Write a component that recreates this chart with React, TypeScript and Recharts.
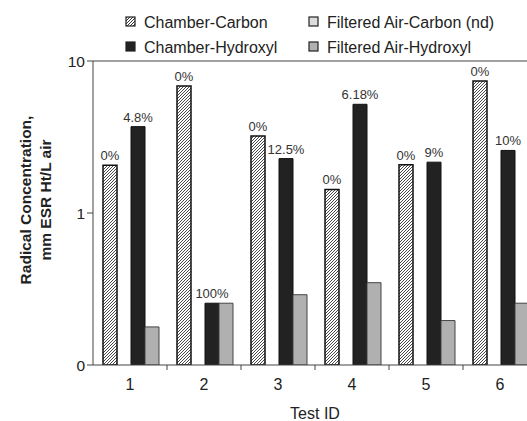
import { Bar, BarChart, LabelList, Legend, ReferenceLine, XAxis, YAxis } from "recharts"

const testIds = ["1", "2", "3", "4", "5", "6"]
const chamberCarbon = [2.06, 6.85, 3.21, 1.43, 2.08, 7.39]
const filteredCarbon = [null, null, null, null, null, null]
const chamberHydroxyl = [3.7, 0.255, 2.28, 5.19, 2.16, 2.58]
const filteredHydroxyl = [0.178, 0.255, 0.29, 0.348, 0.196, 0.255]
const carbonLabels = ["0%", "0%", "0%", "0%", "0%", "0%"]
const hydroxylLabels = ["4.8%", "100%", "12.5%", "6.18%", "9%", "10%"]
const yTicks = [0.1, 1, 10]

const data = testIds.map((id, i) => ({
  id,
  cc: chamberCarbon[i],
  fc: filteredCarbon[i],
  ch: chamberHydroxyl[i],
  fh: filteredHydroxyl[i],
  ccLabel: carbonLabels[i],
  chLabel: hydroxylLabels[i],
}))

const font = "Arial, 'Liberation Sans', sans-serif"

const legendItems = [
  { name: "Chamber-Carbon", fill: "url(#hatchL)", x: 126, y: 22 },
  { name: "Filtered Air-Carbon (nd)", fill: "#dcdcdc", x: 309, y: 22 },
  { name: "Chamber-Hydroxyl", fill: "#222", x: 126, y: 47 },
  { name: "Filtered Air-Hydroxyl", fill: "#b0b0b0", x: 309, y: 47 },
]

const renderLegend = () => (
  <svg width={527} height={60} style={{ position: "absolute", left: 0, top: 0 }}>
    <defs>
      <pattern id="hatchL" width="3" height="3" patternUnits="userSpaceOnUse">
        <rect width="3" height="3" fill="#fff" />
        <path d="M0,3 L3,0 M-1,1 L1,-1 M2,4 L4,2" stroke="#222" strokeWidth="0.9" />
      </pattern>
    </defs>
    {legendItems.map((it) => (
      <g key={it.name}>
        <rect x={it.x} y={it.y - 5} width={9} height={9} fill={it.fill} stroke="#222" strokeWidth={1.2} />
        <text x={it.x + 18} y={it.y + 6} fontSize={16} fontFamily={font} fill="#222">{it.name}</text>
      </g>
    ))}
  </svg>
)

const XTick = ({ x, y, payload }: any) => (
  <g>
    <line x1={x + 37} y1={y - 8} x2={x + 37} y2={y - 3} stroke="#444" />
    <text x={x} y={y + 17} textAnchor="middle" fontSize={16} fontFamily={font} fill="#222">{payload.value}</text>
  </g>
)

const YLabel = () => (
  <text transform="translate(0,200) rotate(-90)" textAnchor="middle" fontSize={15.5} fontWeight="bold" fontFamily={font} fill="#222">
    <tspan x={0} y={31}>Radical Concentration,</tspan>
    <tspan x={0} y={51}>mm ESR Ht/L air</tspan>
  </text>
)

export default function App() {
  return (
    <div style={{ position: "absolute", left: 0, top: 0, width: 527, height: 421, overflow: "hidden", background: "#fff" }}>
      <BarChart
        width={560}
        height={421}
        data={data}
        margin={{ top: 61, right: 23, left: 0, bottom: 0 }}
        barCategoryGap={10}
        barGap={0}
      >
        <defs>
          <pattern id="hatch" width="3" height="3" patternUnits="userSpaceOnUse">
            <rect width="3" height="3" fill="#fff" />
            <path d="M0,3 L3,0 M-1,1 L1,-1 M2,4 L4,2" stroke="#333" strokeWidth="0.9" />
          </pattern>
        </defs>
        <XAxis
          dataKey="id"
          height={56}
          stroke="#444"
          tickLine={false}
          tick={<XTick />}
          label={{ value: "Test ID", position: "insideBottom", offset: 2, fontSize: 16, fontFamily: font, fill: "#222" }}
        />
        <YAxis
          type="number"
          scale="log"
          domain={[0.1, 10]}
          ticks={yTicks}
          allowDataOverflow
          width={93}
          stroke="#444"
          tickSize={6}
          tick={{ fontSize: 15.5, fontFamily: font, fill: "#222" }}
          tickFormatter={(v: number) => (v < 1 ? "0" : String(v))}
          label={<YLabel />}
        />
        <ReferenceLine y={10} stroke="#444" />
        <Legend content={renderLegend} wrapperStyle={{ position: "absolute", left: 0, top: 0 }} />
        <Bar dataKey="cc" name="Chamber-Carbon" fill="url(#hatch)" stroke="#111" strokeWidth={1.5} isAnimationActive={false}>
          <LabelList dataKey="ccLabel" position="top" offset={5} fontSize={13} fontFamily={font} fill="#333" />
        </Bar>
        <Bar dataKey="fc" name="Filtered Air-Carbon (nd)" fill="#dcdcdc" stroke="#333" isAnimationActive={false} />
        <Bar dataKey="ch" name="Chamber-Hydroxyl" fill="#222" stroke="#111" isAnimationActive={false}>
          <LabelList dataKey="chLabel" position="top" offset={5} fontSize={13} fontFamily={font} fill="#333" />
        </Bar>
        <Bar dataKey="fh" name="Filtered Air-Hydroxyl" fill="#b0b0b0" stroke="#444" isAnimationActive={false} />
      </BarChart>
    </div>
  )
}
